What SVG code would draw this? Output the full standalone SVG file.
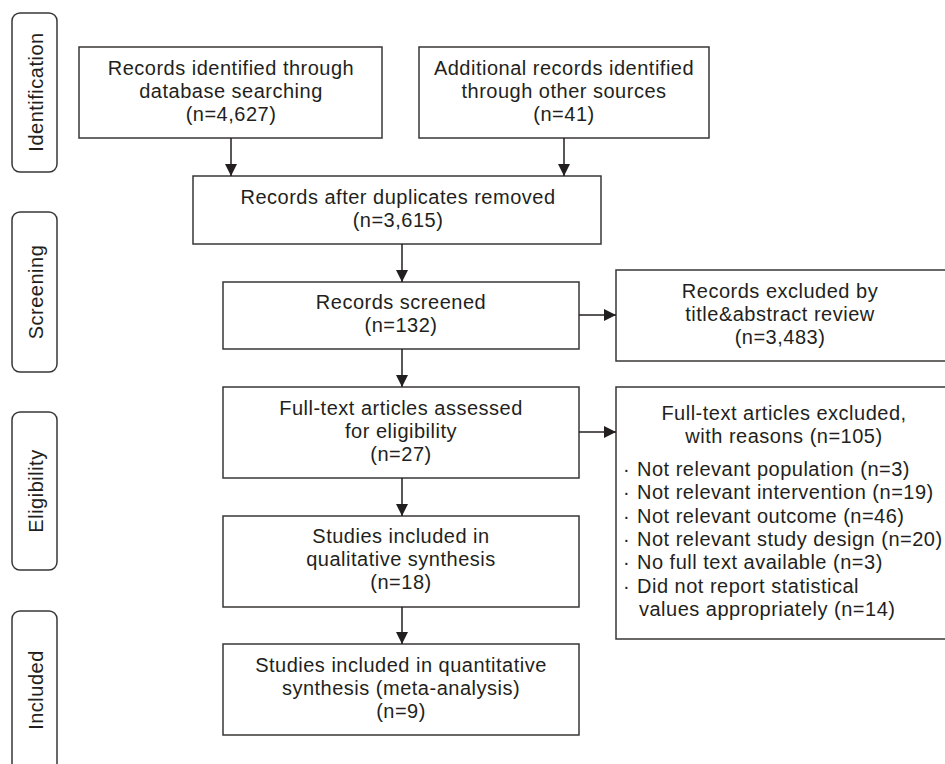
<svg xmlns="http://www.w3.org/2000/svg" width="945" height="764" viewBox="0 0 945 764">
<style>
  .box { fill: #ffffff; stroke: #3a3636; stroke-width: 1.5; }
  .pill { fill: #ffffff; stroke: #3a3636; stroke-width: 1.5; }
  .t { font-family: "Liberation Sans", Arial, sans-serif; font-size: 20px; fill: #231f20; letter-spacing: 0.5px; }
  .c { text-anchor: middle; }
  .conn { stroke: #231f20; stroke-width: 1.5; fill: none; marker-end: url(#arrow); }
</style>
<defs>
  <marker id="arrow" markerUnits="userSpaceOnUse" markerWidth="12" markerHeight="12" refX="12" refY="6" orient="auto">
    <path d="M0,0 L12,6 L0,12 z" fill="#231f20"/>
  </marker>
</defs>
<rect width="945" height="764" fill="#ffffff"/>

<g id="stage-identification">
  <rect class="pill" x="12" y="13" width="45" height="159" rx="8" ry="8"/>
  <text class="t c" transform="translate(42.5,92) rotate(-90)">Identification</text>
</g>
<g id="stage-screening">
  <rect class="pill" x="12" y="212" width="45" height="160" rx="8" ry="8"/>
  <text class="t c" transform="translate(42.5,292) rotate(-90)">Screening</text>
</g>
<g id="stage-eligibility">
  <rect class="pill" x="12" y="412" width="45" height="158" rx="8" ry="8"/>
  <text class="t c" transform="translate(42.5,491) rotate(-90)">Eligibility</text>
</g>
<g id="stage-included">
  <rect class="pill" x="12" y="611" width="45" height="170" rx="8" ry="8"/>
  <text class="t c" transform="translate(42.5,690) rotate(-90)">Included</text>
</g>

<g id="n-database">
  <rect class="box" x="79" y="47" width="303" height="91"/>
  <text class="t c" x="231" y="75">Records identified through</text>
  <text class="t c" x="231" y="98">database searching</text>
  <text class="t c" x="231" y="121">(n=4,627)</text>
</g>
<g id="n-other">
  <rect class="box" x="419" y="47" width="290" height="91"/>
  <text class="t c" x="564" y="75">Additional records identified</text>
  <text class="t c" x="564" y="98">through other sources</text>
  <text class="t c" x="564" y="121">(n=41)</text>
</g>
<g id="n-dedup">
  <rect class="box" x="193" y="176" width="408" height="68"/>
  <text class="t c" x="398" y="204">Records after duplicates removed</text>
  <text class="t c" x="398" y="227">(n=3,615)</text>
</g>
<g id="n-screened">
  <rect class="box" x="223" y="282" width="356" height="67"/>
  <text class="t c" x="401" y="309">Records screened</text>
  <text class="t c" x="401" y="332">(n=132)</text>
</g>
<g id="n-excluded-title">
  <rect class="box" x="616" y="270" width="345" height="91"/>
  <text class="t c" x="780" y="298">Records excluded by</text>
  <text class="t c" x="780" y="321">title&amp;abstract review</text>
  <text class="t c" x="780" y="344">(n=3,483)</text>
</g>
<g id="n-fulltext">
  <rect class="box" x="223" y="387" width="356" height="91"/>
  <text class="t c" x="401" y="415">Full-text articles assessed</text>
  <text class="t c" x="401" y="438">for eligibility</text>
  <text class="t c" x="401" y="461">(n=27)</text>
</g>
<g id="n-excluded-fulltext">
  <rect class="box" x="616" y="387" width="345" height="252"/>
  <text class="t c" x="784" y="420">Full-text articles excluded,</text>
  <text class="t c" x="784" y="443">with reasons (n=105)</text>
  <text class="t" x="623" y="476">·</text><text class="t" x="637" y="476">Not relevant population (n=3)</text>
  <text class="t" x="623" y="499">·</text><text class="t" x="637" y="499">Not relevant intervention (n=19)</text>
  <text class="t" x="623" y="523">·</text><text class="t" x="637" y="523">Not relevant outcome (n=46)</text>
  <text class="t" x="623" y="546">·</text><text class="t" x="637" y="546">Not relevant study design (n=20)</text>
  <text class="t" x="623" y="569">·</text><text class="t" x="637" y="569">No full text available (n=3)</text>
  <text class="t" x="623" y="593">·</text><text class="t" x="637" y="593">Did not report statistical</text>
  <text class="t" x="639" y="616">values appropriately (n=14)</text>
</g>
<g id="n-qualitative">
  <rect class="box" x="223" y="516" width="356" height="91"/>
  <text class="t c" x="401" y="543">Studies included in</text>
  <text class="t c" x="401" y="566">qualitative synthesis</text>
  <text class="t c" x="401" y="589">(n=18)</text>
</g>
<g id="n-quantitative">
  <rect class="box" x="223" y="644" width="356" height="91"/>
  <text class="t c" x="401" y="672">Studies included in quantitative</text>
  <text class="t c" x="401" y="695">synthesis (meta-analysis)</text>
  <text class="t c" x="401" y="718">(n=9)</text>
</g>

<g id="connectors">
  <line class="conn" x1="231" y1="138" x2="231" y2="176"/>
  <line class="conn" x1="564" y1="138" x2="564" y2="176"/>
  <line class="conn" x1="402" y1="244" x2="402" y2="282"/>
  <line class="conn" x1="402" y1="349" x2="402" y2="387"/>
  <line class="conn" x1="402" y1="478" x2="402" y2="516"/>
  <line class="conn" x1="402" y1="607" x2="402" y2="644"/>
  <line class="conn" x1="579" y1="315" x2="616" y2="315"/>
  <line class="conn" x1="579" y1="432" x2="616" y2="432"/>
</g>
</svg>
